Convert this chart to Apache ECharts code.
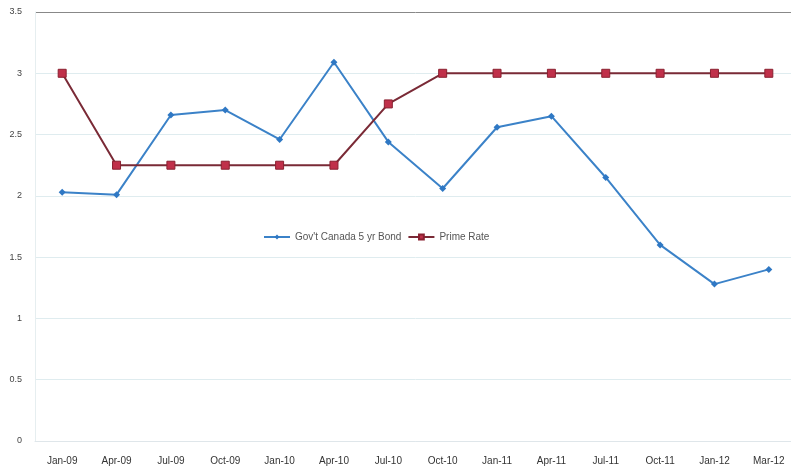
<!DOCTYPE html>
<html><head><meta charset="utf-8">
<script src="https://cdn.jsdelivr.net/npm/echarts@6/dist/echarts.min.js"></script>
<style>html,body{margin:0;padding:0;background:#fff;overflow:hidden}#c{width:797px;height:467px}</style>
</head><body><div id="c"></div>
<script>
const categories = ['Jan-09','Apr-09','Jul-09','Oct-09','Jan-10','Apr-10','Jul-10','Oct-10','Jan-11','Apr-11','Jul-11','Oct-11','Jan-12','Mar-12'];
const bondValues = [2.03,2.01,2.66,2.70,2.46,3.09,2.44,2.06,2.56,2.65,2.15,1.60,1.28,1.40];
const primeValues = [3,2.25,2.25,2.25,2.25,2.25,2.75,3,3,3,3,3,3,3];
const yTicks = [0,0.5,1,1.5,2,2.5,3,3.5];
const chart = echarts.init(document.getElementById('c'));
chart.setOption({
  animation:false,
  grid:{left:35,top:12,right:1,bottom:26,containLabel:false},
  legend:{left:258,top:227,itemGap:6,itemWidth:26,itemHeight:6,
    textStyle:{fontSize:10,color:'#555',fontFamily:'Liberation Sans'},
    data:['Gov\'t Canada 5 yr Bond','Prime Rate']},
  xAxis:{type:'category',data:categories,boundaryGap:true,
    axisLine:{show:true,lineStyle:{color:'#dfe6ea'}},axisTick:{show:false},
    axisLabel:{fontSize:10,color:'#333',margin:15,interval:0,fontFamily:'Liberation Sans'}},
  yAxis:{type:'value',min:0,max:3.5,interval:0.5,
    axisLine:{show:true,lineStyle:{color:'#e6eef0'}},axisTick:{show:false},
    axisLabel:{fontSize:9,color:'#444',margin:13,fontFamily:'Liberation Sans',
      formatter:v=>yTicks.includes(v)?String(v):''},
    splitLine:{lineStyle:{color:['#dfecef','#dfecef','#dfecef','#dfecef','#dfecef','#dfecef','#dfecef','#888']}}},
  series:[
    {name:'Gov\'t Canada 5 yr Bond',type:'line',data:bondValues,symbol:'diamond',symbolSize:7,
      lineStyle:{color:'#3b82c8',width:2},itemStyle:{color:'#2f78c4'}},
    {name:'Prime Rate',type:'line',data:primeValues,symbol:'rect',symbolSize:8,
      lineStyle:{color:'#7a2a36',width:2},itemStyle:{color:'#c0304a',borderColor:'#8a2030',borderWidth:1}}
  ]
});
</script></body></html>
